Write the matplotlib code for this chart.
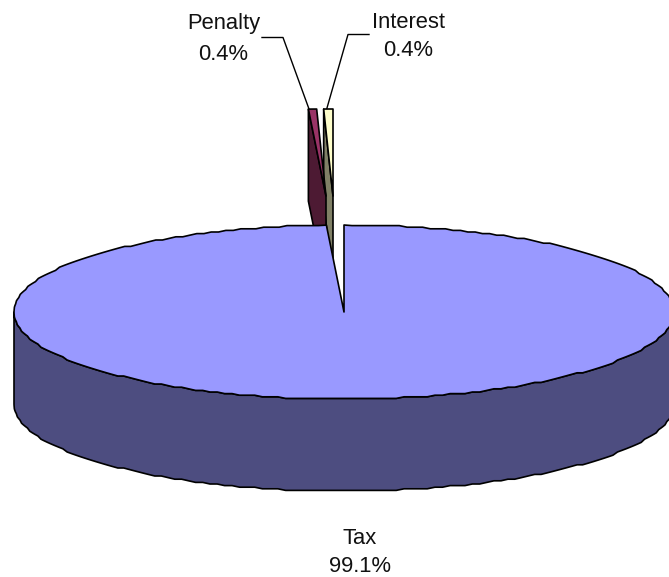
import numpy as np
import matplotlib
matplotlib.use("Agg")
import matplotlib.pyplot as plt
from matplotlib.patches import Polygon

categories = ["Tax", "Penalty", "Interest"]
values = [99.15, 0.40, 0.45]
percent_labels = ["99.1%", "0.4%", "0.4%"]

TOP = {"Tax": "#9999FF", "Penalty": "#993366", "Interest": "#FFFFCC"}
SIDE = {"Tax": "#4D4D80", "Penalty": "#4D1A33", "Interest": "#808066"}
CX, CY, A, B, DEPTH = 344, 312, 330, 87, 92
EXPLODE = {"Tax": (0, 0), "Penalty": (-18, -116), "Interest": (-11, -116)}
LABEL_POS = {"Tax": (360, 538, 566), "Penalty": (223.5, 24, 54), "Interest": (408.5, 22, 51)}
LEADERS = {"Penalty": [(262, 37.5), (283, 37.5), (309, 109)],
           "Interest": [(369, 34.5), (348, 34.5), (326.7, 109)]}
RIM_GRID = 1.6  # fine vertex grid gives the rim its slightly stepped outline

plt.rcParams["font.family"] = ["Liberation Sans", "DejaVu Sans"]
fig = plt.figure(figsize=(6.69, 5.77), dpi=100)
ax = fig.add_axes([0, 0, 1, 1])
ax.set_xlim(0, 669)
ax.set_ylim(577, 0)
ax.axis("off")

# wedge angles (clockwise from the top of the ellipse)
edges = np.cumsum([0] + values) / sum(values) * 2 * np.pi
spans = dict(zip(categories, zip(edges[:-1], edges[1:])))


def rim(cat, n=None):
    t0, t1 = spans[cat]
    n = n or max(3, int((t1 - t0) * 16))
    t = np.linspace(t0, t1, n)
    dx, dy = EXPLODE[cat]
    return np.c_[CX + dx + A * np.sin(t), CY + dy - B * np.cos(t)]


def apex(cat):
    dx, dy = EXPLODE[cat]
    return np.array([[CX + dx, CY + dy]])


def shift(pts):
    return pts + [0, DEPTH]


def stepped(pts):
    out = pts.copy()
    out[1:-1, 1] = np.round(out[1:-1, 1] / RIM_GRID) * RIM_GRID
    return out


def draw(pts, color, z, lw=1.2):
    ax.add_patch(Polygon(pts, closed=True, facecolor=color, edgecolor="black",
                         linewidth=lw, joinstyle="round", zorder=z))


# exploded small wedges: cut wall, then top
for cat, z in (("Interest", 2), ("Penalty", 4)):
    r = rim(cat)
    left_edge = r[0]
    wall = np.vstack([[left_edge], apex(cat), shift(apex(cat)), [left_edge + [0, DEPTH]]])
    draw(wall, SIDE[cat], z)
    draw(np.vstack([apex(cat), r]), TOP[cat], z + 1)

# main wedge: outer wall (front half) then top
r = stepped(rim("Tax", 260))
visible = r[(r[:, 1] >= CY - 1)]
visible = visible[np.argsort(visible[:, 0])]
draw(np.vstack([visible, shift(visible)[::-1]]), SIDE["Tax"], 6)
draw(np.vstack([apex("Tax"), r]), TOP["Tax"], 7)

# labels and leader lines
for cat, pct in zip(categories, percent_labels):
    x, y1, y2 = LABEL_POS[cat]
    ax.text(x, y1, cat, ha="center", va="center", fontsize=15.8, color="#111111", zorder=10)
    ax.text(x, y2, pct, ha="center", va="center", fontsize=15.8, color="#111111", zorder=10)
for cat, pts in LEADERS.items():
    xs, ys = zip(*pts)
    ax.plot(xs, ys, color="black", lw=1.0, zorder=1)

fig.savefig("out.png", dpi=100, facecolor="white")
